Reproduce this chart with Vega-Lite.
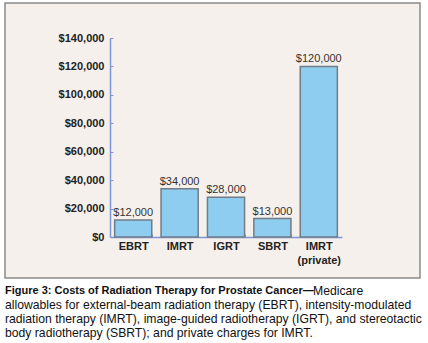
{
  "$schema": "https://vega.github.io/schema/vega-lite/v6.json",
  "width": 415,
  "height": 275,
  "autosize": {"type": "none"},
  "padding": {"left": 5, "top": 3, "right": 8, "bottom": 65},
  "background": "#ffffff",
  "config": {
    "font": "Liberation Sans",
    "view": {"fill": "#f6f0ec", "stroke": "#8a8a8a", "strokeWidth": 1.5}
  },
  "title": {
    "text": "Figure 3: Costs of Radiation Therapy for Prostate Cancer—",
    "subtitle": [
      "\u200b\u2003\u2003\u2003\u2003\u2003\u2003\u2003\u2003\u2003\u2003\u2003\u2003\u2003\u2003\u2003\u2003\u2003\u2003\u2003\u2003\u2003\u2003\u2003\u2003\u2003\u00a0Medicare",
      "allowables for external-beam radiation therapy (EBRT), intensity-modulated",
      "radiation therapy (IMRT), image-guided radiotherapy (IGRT), and stereotactic",
      "body radiotherapy (SBRT); and private charges for IMRT."
    ],
    "orient": "bottom",
    "anchor": "start",
    "frame": "group",
    "offset": 7,
    "font": "Liberation Sans",
    "fontSize": 11,
    "fontWeight": "bold",
    "color": "#111111",
    "subtitleFont": "Liberation Sans",
    "subtitleFontSize": 12.2,
    "subtitleFontWeight": "normal",
    "subtitleColor": "#111111",
    "subtitleLineHeight": 14,
    "subtitlePadding": -11
  },
  "data": {
    "values": [
      {"therapy": "EBRT", "cost": 12000},
      {"therapy": "IMRT", "cost": 34000},
      {"therapy": "IGRT", "cost": 28000},
      {"therapy": "SBRT", "cost": 13000},
      {"therapy": "IMRT (private)", "cost": 120000}
    ]
  },
  "encoding": {
    "x": {
      "field": "therapy",
      "type": "nominal",
      "sort": null,
      "scale": {"range": [105, 337], "paddingInner": 0.2, "paddingOuter": 0.1},
      "axis": {
        "title": null,
        "orient": "bottom",
        "offset": -41,
        "labelAngle": 0,
        "labelFont": "Liberation Sans",
        "labelFontSize": 11,
        "labelFontWeight": "bold",
        "labelColor": "#222222",
        "labelPadding": 6,
        "labelLineHeight": 14,
        "labelExpr": "datum.value == 'IMRT (private)' ? ['IMRT', '(private)'] : datum.value",
        "domainColor": "#7f95d6",
        "domainWidth": 1.5,
        "tickColor": "#7f95d6",
        "tickBand": "extent",
        "tickSize": -3,
        "tickWidth": 1
      }
    },
    "y": {
      "field": "cost",
      "type": "quantitative",
      "scale": {"domain": [0, 140000], "range": [234, 35], "nice": false, "zero": true},
      "axis": {
        "title": null,
        "orient": "left",
        "offset": -105,
        "values": [0, 20000, 40000, 60000, 80000, 100000, 120000, 140000],
        "format": "$,.0f",
        "grid": false,
        "labelFont": "Liberation Sans",
        "labelFontSize": 11,
        "labelFontWeight": "bold",
        "labelColor": "#222222",
        "labelPadding": 9,
        "domainColor": "#7f95d6",
        "domainWidth": 1.5,
        "tickColor": "#7f95d6",
        "tickSize": -3,
        "tickWidth": 1
      }
    }
  },
  "layer": [
    {
      "mark": {"type": "bar", "fill": "#8fcdf0", "stroke": "#717c86", "strokeWidth": 1.5}
    },
    {
      "mark": {"type": "text", "baseline": "alphabetic", "dy": -4, "fontSize": 11, "color": "#333333", "font": "Liberation Sans"},
      "encoding": {
        "text": {"field": "cost", "type": "quantitative", "format": "$,.0f"}
      }
    }
  ]
}
